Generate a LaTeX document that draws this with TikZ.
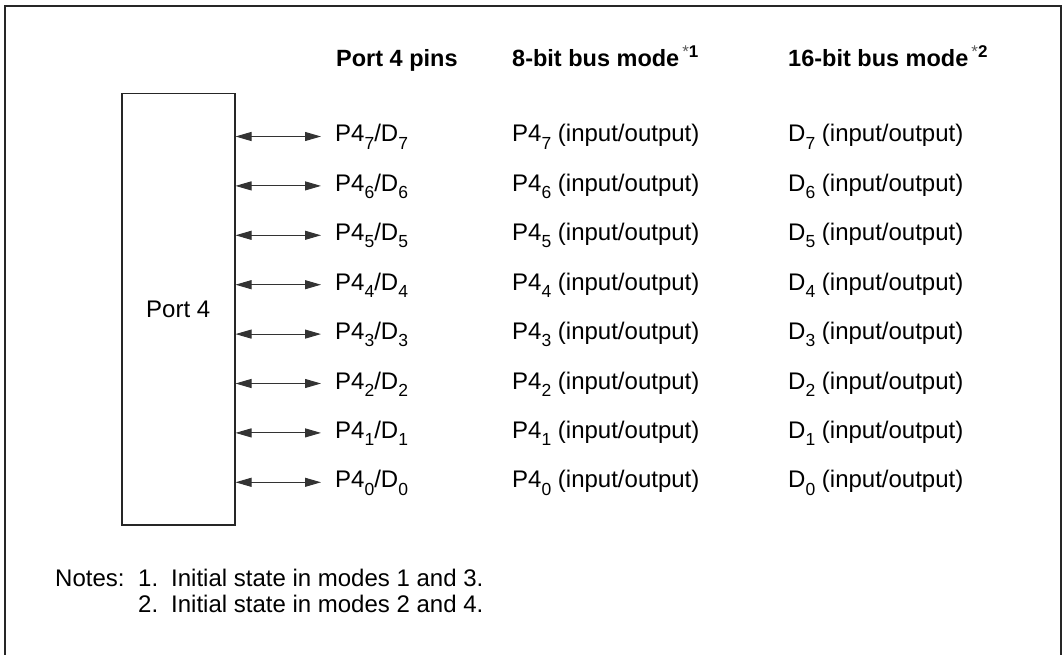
\documentclass[tikz,border=0pt]{standalone}
\usepackage{fontspec}
\setmainfont{Liberation Sans}
\usetikzlibrary{arrows.meta}
\newcommand{\mysub}[1]{\raisebox{-0.3em}{\fontsize{17.5}{17.5}\selectfont #1}}
\newcommand{\mysup}[1]{\kern3pt\raisebox{0.42em}{\fontsize{17}{17}\selectfont\mdseries\color{black!65}*\color{black}\bfseries #1}}
\begin{document}
\begin{tikzpicture}[x=1pt,y=-1pt,
  every node/.style={inner sep=0pt, font=\fontsize{24}{28}\selectfont},
  hdr/.style={anchor=base west, font=\fontsize{23.5}{28}\selectfont\bfseries},
  txt/.style={anchor=base west},
  bidir/.style={{Triangle[length=16pt,width=9pt]}-{Triangle[length=16pt,width=9pt]}, line width=1pt, draw=black!80, fill=black}]
\useasboundingbox (0,0) rectangle (1063,655);
\draw[line width=2pt, black!85] (5,655) -- (5,6) -- (1061,6) -- (1061,655);
% headers
\node[hdr] (h1) at (336,67) {Port 4 pins};
\node[hdr] (h2) at (512,67) {8-bit bus mode\mysup{1}};
\node[hdr] (h3) at (788,67) {16-bit bus mode\mysup{2}};
% port box
\node[draw, draw=black!85, line width=1.5pt, minimum width=113pt, minimum height=431pt, anchor=north west] (port) at (121,93) {Port 4};
% rows
\foreach \i in {0,...,7}{
  \pgfmathsetmacro{\yb}{142+49.4*(7-\i)}
  \node[txt] (pin\i) at (335,\yb) {P4\mysub{\i}/D\mysub{\i}};
  \node[txt] (m8\i) at (512,\yb) {P4\mysub{\i} (input/output)};
  \node[txt] (m16\i) at (788,\yb) {D\mysub{\i} (input/output)};
  \coordinate (b\i) at (321,\yb-5.5);
  \draw[bidir] (port.east |- b\i) -- (b\i);
}
% notes
\node[txt] (n0) at (55,586) {Notes:};
\node[txt] (n1) at (138,586) {1.};
\node[txt] (n1t) at (171,586) {Initial state in modes 1 and 3.};
\node[txt] (n2) at (138,612) {2.};
\node[txt] (n2t) at (171,612) {Initial state in modes 2 and 4.};
\end{tikzpicture}
\end{document}
